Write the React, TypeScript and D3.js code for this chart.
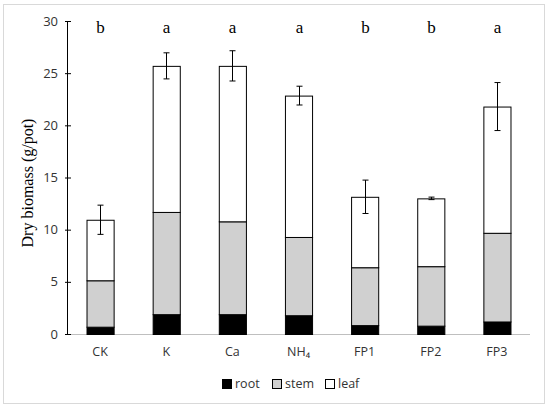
import { useEffect, useRef } from 'react';
import * as d3 from 'd3';

// Dry biomass by treatment (g/pot), stacked root/stem/leaf
const categories = ['CK', 'K', 'Ca', 'NH4', 'FP1', 'FP2', 'FP3'];
const rootValues = [0.7, 1.9, 1.9, 1.8, 0.85, 0.8, 1.2];
const stemValues = [4.45, 9.8, 8.9, 7.5, 5.55, 5.7, 8.5];
const leafValues = [5.8, 14.0, 14.9, 13.55, 6.75, 6.5, 12.1];
const errorValues = [1.4, 1.25, 1.45, 0.9, 1.6, 0.12, 2.3];
const letters = ['b', 'a', 'a', 'a', 'b', 'b', 'a'];
const yTicks = [0, 5, 10, 15, 20, 25, 30];
const seriesNames = ['root', 'stem', 'leaf'];
const seriesColors = ['#000000', '#d0d0d0', '#ffffff'];

const App = () => {
  const svgRef = useRef<SVGSVGElement>(null);

  useEffect(() => {
    if (!svgRef.current) return;
    const width = 550;
    const height = 409;
    const svg = d3.select(svgRef.current);
    svg.selectAll('*').remove();

    svg.attr('width', width).attr('height', height);

    // outer frame
    svg.append('rect')
      .attr('x', 3.5).attr('y', 4.5)
      .attr('width', 541).attr('height', 399)
      .attr('fill', '#fff')
      .attr('stroke', '#d9d9d9');

    const margin = { top: 21, left: 67, right: 20, bottom: 75 };
    const innerWidth = 530 - margin.left;
    const innerHeight = 334 - margin.top;

    const g = svg.append('g')
      .attr('transform', `translate(${margin.left},${margin.top})`);

    const x = d3.scaleBand<string>()
      .domain(categories)
      .range([0, innerWidth])
      .paddingInner(0.59)
      .paddingOuter(0.295);

    const y = d3.scaleLinear()
      .domain([0, 30])
      .range([innerHeight, 0]);

    const rows = categories.map((c, i) => ({
      cat: c, root: rootValues[i], stem: stemValues[i], leaf: leafValues[i]
    }));
    const stacked = d3.stack<any>().keys(seriesNames)(rows);

    // x axis line
    g.append('line')
      .attr('x1', 0).attr('x2', innerWidth)
      .attr('y1', innerHeight + 0.5).attr('y2', innerHeight + 0.5)
      .attr('stroke', '#bfbfbf');

    // bars
    stacked.forEach((layer, li) => {
      g.append('g')
        .selectAll('rect')
        .data(layer)
        .enter()
        .append('rect')
        .attr('x', (d: any) => (x(d.data.cat) as number) + 0.5)
        .attr('y', d => y(d[1]) + 0.5)
        .attr('width', x.bandwidth())
        .attr('height', d => y(d[0]) - y(d[1]))
        .attr('fill', seriesColors[li])
        .attr('stroke', '#000')
        .attr('stroke-width', 1);
    });

    // error bars
    const cap = 3;
    rows.forEach((r, i) => {
      const total = r.root + r.stem + r.leaf;
      const cx = Math.round((x(r.cat) as number) + x.bandwidth() / 2) + 0.5;
      const yt = y(total + errorValues[i]);
      const yb = y(total - errorValues[i]);
      const eg = g.append('g').attr('stroke', '#000').attr('stroke-width', 1);
      eg.append('line').attr('x1', cx).attr('x2', cx).attr('y1', yt).attr('y2', yb);
      eg.append('line').attr('x1', cx - cap).attr('x2', cx + cap).attr('y1', yt).attr('y2', yt);
      eg.append('line').attr('x1', cx - cap).attr('x2', cx + cap).attr('y1', yb).attr('y2', yb);

      // significance letters
      g.append('text')
        .attr('x', cx)
        .attr('y', 12)
        .attr('text-anchor', 'middle')
        .style('font-family', '"Liberation Serif", "Times New Roman", serif')
        .style('font-size', '17px')
        .text(letters[i]);
    });

    // y axis
    const yAxis = g.append('g');
    yAxis.append('line')
      .attr('x1', 0.5).attr('x2', 0.5)
      .attr('y1', 0).attr('y2', innerHeight)
      .attr('stroke', '#000');
    yTicks.forEach(t => {
      yAxis.append('line')
        .attr('x1', -2).attr('x2', 4)
        .attr('y1', y(t) + 0.5).attr('y2', y(t) + 0.5)
        .attr('stroke', '#000');
      yAxis.append('text')
        .attr('x', -9)
        .attr('y', y(t))
        .attr('dy', '0.35em')
        .attr('text-anchor', 'end')
        .style('font-family', '"Open Sans", sans-serif')
        .style('font-size', '13px')
        .attr('fill', '#333')
        .text(t);
    });

    // x labels
    categories.forEach(c => {
      const t = g.append('text')
        .attr('x', (x(c) as number) + x.bandwidth() / 2)
        .attr('y', innerHeight + 22)
        .attr('text-anchor', 'middle')
        .style('font-family', '"Open Sans", sans-serif')
        .style('font-size', '12.5px')
        .attr('fill', '#333');
      if (c === 'NH4') {
        t.text('NH₄');
      } else {
        t.text(c);
      }
    });

    // y axis title
    svg.append('text')
      .attr('transform', `translate(33,${183}) rotate(-90)`)
      .attr('text-anchor', 'middle')
      .style('font-family', '"Liberation Serif", "Times New Roman", serif')
      .style('font-size', '16px')
      .text('Dry biomass (g/pot)');

    // legend
    const legendX = [222, 272, 325];
    seriesNames.forEach((name, i) => {
      svg.append('rect')
        .attr('x', legendX[i] + 0.5).attr('y', 379.5)
        .attr('width', 9).attr('height', 9)
        .attr('fill', seriesColors[i])
        .attr('stroke', '#000');
      svg.append('text')
        .attr('x', legendX[i] + 13)
        .attr('y', 384)
        .attr('dy', '0.35em')
        .style('font-family', '"Open Sans", sans-serif')
        .style('font-size', '12.5px')
        .attr('fill', '#333')
        .text(name);
    });
  }, []);

  return (
    <div style={{ position: 'absolute', left: 0, top: 0 }}>
      <svg ref={svgRef}></svg>
    </div>
  );
};

export default App;
